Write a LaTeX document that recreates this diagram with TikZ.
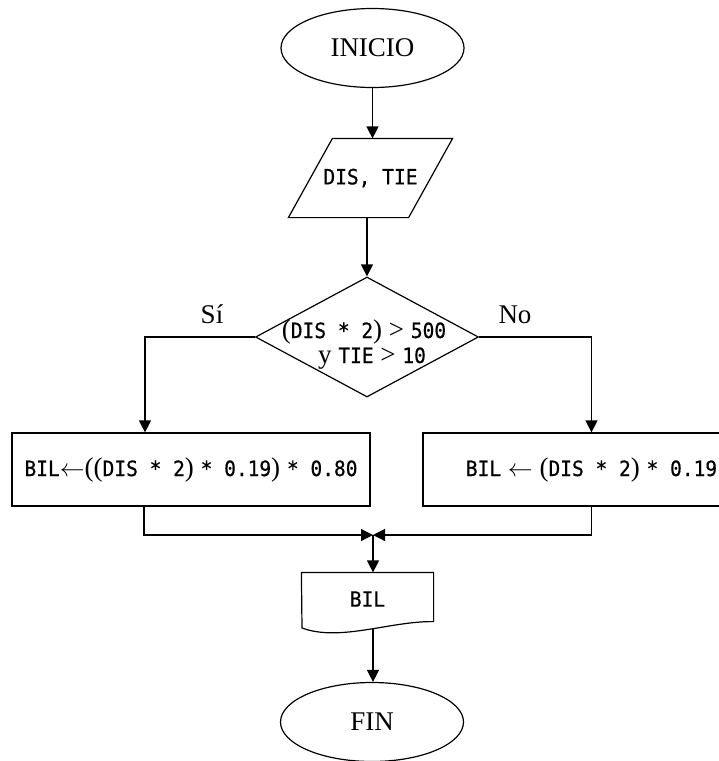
\documentclass[tikz,border=0pt]{standalone}
\usepackage{fontspec}
\setmainfont{Liberation Serif}
\newfontfamily\monof[FakeStretch=0.93,FakeBold=0.6]{DejaVu Sans Mono}
\usetikzlibrary{shapes.geometric,arrows.meta}
\newcommand\mo[1]{{\monof\fontsize{21}{22}\selectfont #1}}
\begin{document}
\begin{tikzpicture}[x=1pt,y=-1pt,
  line width=1.2pt,
  every node/.style={font=\fontsize{27}{22}\selectfont, inner sep=0pt},
  term/.style={ellipse, draw, minimum width=183pt, minimum height=79pt},
  proc/.style={rectangle, draw, minimum height=73pt},
  arr/.style={-{Triangle[length=12pt,width=12pt]}},
]
\clip (0,0) rectangle (719,761);
% terminals
\node[term] (ini) at (372.5,48) {INICIO};
% input parallelogram
\node[minimum width=163pt, minimum height=78pt] (p) at (370.5,178) {\mo{DIS, TIE}};
\draw (p.south west) -- ([xshift=-44pt]p.south east) -- (p.north east) -- ([xshift=44pt]p.north west) -- cycle;
% decision
\node[diamond, draw, minimum width=223pt, minimum height=120pt] (d) at (367,337) {};
\node[anchor=base] (dt1) at (364,338) {(\mo{DIS * 2}) > \mo{500}};
\node[anchor=base] (dt2) at (372,363) {y \mo{TIE} > \mo{10}};
\node[anchor=base] (si) at (212,323) {Sí};
\node[anchor=base] (no) at (515,323) {No};
% processes
\node[proc, minimum width=358pt] (l) at (191,469.5) {\mo{BIL}$\leftarrow$((\mo{DIS * 2}) \mo{* 0.19}) \mo{* 0.80}};
\node[proc, minimum width=337pt] (r) at (591.5,469.5) {\mo{BIL} $\leftarrow$ (\mo{DIS * 2}) \mo{* 0.19}};
% merge point
\coordinate (m) at (373,535);
% document
\node[minimum width=131pt, minimum height=52pt] (doc) at (367.5,599) {\mo{BIL}};
\draw (doc.north west) -- (doc.north east) -- ([yshift=4pt]doc.south east)
  .. controls (390,621) and (340,642) .. (302,628) -- cycle;
\coordinate (dw) at (373,628);
\node[term] (fin) at (372,722) {FIN};
% connectors
\draw[arr] (ini.south) -- (ini.south |- p.north);
\draw[arr] (d.north |- p.south) -- (d.north);
\draw[arr] (d.west) -| ([xshift=-46pt]l.north);
\draw[arr] (d.east) -| (r.north);
\draw[arr] ([xshift=-47pt]l.south) |- (m);
\draw[arr] (r.south) |- (m);
\draw[arr] (m) -- (m |- doc.north);
\draw[arr] (dw) -- (dw |- fin.north);
\end{tikzpicture}
\end{document}
